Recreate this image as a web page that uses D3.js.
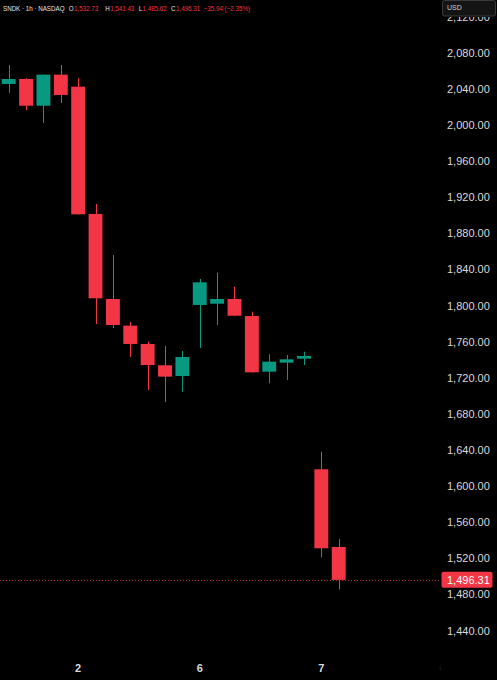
<!DOCTYPE html>
<html>
<head>
<meta charset="utf-8">
<script src="https://cdn.jsdelivr.net/npm/d3@7/dist/d3.min.js"></script>
<style>
  html, body { margin: 0; padding: 0; background: #000; }
  svg { display: block; }
  text { font-family: "Liberation Sans", Arial, sans-serif; }
</style>
</head>
<body>
<div id="chart"></div>
<script>
const THEME = {
  bg: '#000000',
  up: '#089981',
  down: '#F23645',
  axisText: '#DBDBDB',
};

// hourly bars, left to right
const opens  = [2045.6, 2051.1, 2021.5, 2055.9, 2042.6, 1901.6, 1807.4, 1777.9, 1757.6, 1734.0, 1722.1, 1800.8, 1802.2, 1807.4, 1788.6, 1726.9, 1736.9, 1741.3, 1618.8, 1532.73];
const highs  = [2066.6, 2052.0, 2056.0, 2066.6, 2051.9, 1912.7, 1856.2, 1781.9, 1760.1, 1755.4, 1749.8, 1829.6, 1836.6, 1821.0, 1793.4, 1746.2, 1745.4, 1749.0, 1638.3, 1541.43];
const lows   = [2035.9, 2016.8, 2002.4, 2024.5, 1901.0, 1779.7, 1775.3, 1743.2, 1706.6, 1693.3, 1704.7, 1753.2, 1778.6, 1788.5, 1726.0, 1714.0, 1717.7, 1734.3, 1521.3, 1485.62];
const closes = [2051.1, 2021.5, 2055.9, 2033.4, 1901.2, 1808.2, 1778.6, 1757.6, 1734.3, 1721.4, 1743.2, 1825.9, 1807.4, 1788.9, 1726.2, 1738.0, 1740.6, 1744.3, 1531.3, 1496.31];

const dayTicks = [{ bar: 4, label: '2' }, { bar: 11, label: '6' }, { bar: 18, label: '7' }];
const priceTicks = d3.range(1440, 2121, 40);
const lastPrice = 1496.31;

const width = 497, height = 680;
const svg = d3.select('#chart').append('svg')
  .attr('width', width).attr('height', height)
  .style('background', THEME.bg);

const bars = opens.map((o, i) => ({ i, o, h: highs[i], l: lows[i], c: closes[i] }));

const x = d3.scaleBand()
  .domain(d3.range(bars.length))
  .range([0, 347.4])
  .paddingInner(0.2)
  .paddingOuter(0.1);

const y = d3.scaleLinear().domain([1440, 2080]).range([630.7, 52.9]);

const cx = (i) => x(i) + x.bandwidth() / 2;
const color = (d) => d.c >= d.o ? THEME.up : THEME.down;

// last price dotted line
svg.append('line')
  .attr('x1', 0).attr('x2', 441)
  .attr('y1', Math.round(y(lastPrice)) + 0.5).attr('y2', Math.round(y(lastPrice)) + 0.5)
  .attr('stroke', THEME.down).attr('stroke-width', 1)
  .attr('stroke-dasharray', '1,2').attr('opacity', 0.7);

const g = svg.append('g');
g.selectAll('line.wick').data(bars).join('line')
  .attr('class', 'wick')
  .attr('x1', (d) => Math.round(cx(d.i)) + 0.5)
  .attr('x2', (d) => Math.round(cx(d.i)) + 0.5)
  .attr('y1', (d) => y(d.h)).attr('y2', (d) => y(d.l))
  .attr('stroke', color).attr('stroke-width', 1);

g.selectAll('rect.body').data(bars).join('rect')
  .attr('class', 'body')
  .attr('x', (d) => x(d.i))
  .attr('width', x.bandwidth())
  .attr('y', (d) => y(Math.max(d.o, d.c)))
  .attr('height', (d) => Math.max(1.5, Math.abs(y(d.o) - y(d.c))))
  .attr('fill', color);

// price axis (top label sits under the currency box, clipped like the original)
svg.append('clipPath').attr('id', 'axis-clip')
  .append('rect').attr('x', 430).attr('y', 17).attr('width', 67).attr('height', 640);

const yAxis = svg.append('g').attr('clip-path', 'url(#axis-clip)');
yAxis.selectAll('text').data(priceTicks).join('text')
  .attr('x', 447).attr('y', (d) => y(d))
  .attr('dy', '0.35em')
  .attr('font-size', 11)
  .attr('fill', THEME.axisText)
  .text((d) => d3.format(',.2f')(d));

// last price label
svg.append('rect')
  .attr('x', 441.5).attr('y', y(lastPrice) - 8)
  .attr('width', 51).attr('height', 16).attr('rx', 2)
  .attr('fill', THEME.down);
svg.append('text')
  .attr('x', 447).attr('y', y(lastPrice)).attr('dy', '0.35em')
  .attr('font-size', 11).attr('fill', '#fff')
  .text(d3.format(',.2f')(lastPrice));

// currency box
svg.append('rect')
  .attr('x', 442.5).attr('y', 0.5).attr('width', 53).attr('height', 15.5).attr('rx', 2)
  .attr('fill', '#141414').attr('stroke', '#3a3a3a');
svg.append('text')
  .attr('x', 447).attr('y', 7.8).attr('dy', '0.35em')
  .attr('font-size', 7).attr('fill', '#d0d0d0').text('USD');

// time axis
svg.append('g').selectAll('text').data(dayTicks).join('text')
  .attr('x', (d) => cx(d.bar)).attr('y', 668).attr('dy', '0.35em')
  .attr('text-anchor', 'middle').attr('font-size', 11).attr('font-weight', 'bold')
  .attr('fill', THEME.axisText)
  .text((d) => d.label);
svg.append('text')
  .attr('x', 440).attr('y', 667).attr('dy', '0.35em')
  .attr('text-anchor', 'middle').attr('font-size', 8).attr('fill', '#3a3a3a')
  .text('↓');

// header legend: laid out at natural width, then squeezed to the original's width
const fmt = d3.format(',.2f');
const last = bars[bars.length - 1];
const parts = [
  { t: 'SNDK · 1h · NASDAQ', c: '#e6e6e6', gap: 0 },
  { t: 'O', c: '#e6e6e6', gap: 5 }, { t: fmt(last.o), c: THEME.down, gap: 0.5 },
  { t: 'H', c: '#e6e6e6', gap: 8 }, { t: fmt(last.h), c: THEME.down, gap: 0.5 },
  { t: 'L', c: '#e6e6e6', gap: 5 }, { t: fmt(last.l), c: THEME.down, gap: 0.5 },
  { t: 'C', c: '#e6e6e6', gap: 5 }, { t: fmt(last.c), c: THEME.down, gap: 0.5 },
  { t: '−35.94 (−2.35%)', c: THEME.down, gap: 4 },
];
const legend = svg.append('g');
const legendTexts = legend.selectAll('text').data(parts).join('text')
  .attr('y', 8).attr('dy', '0.35em')
  .attr('font-size', 7.2)
  .attr('fill', (d) => d.c)
  .text((d) => d.t);
let cursor = 0;
legendTexts.each(function (d) {
  cursor += d.gap;
  d3.select(this).attr('x', cursor);
  cursor += this.getComputedTextLength();
});
legend.attr('transform', `translate(3,0) scale(${247 / cursor},1)`);
</script>
</body>
</html>
